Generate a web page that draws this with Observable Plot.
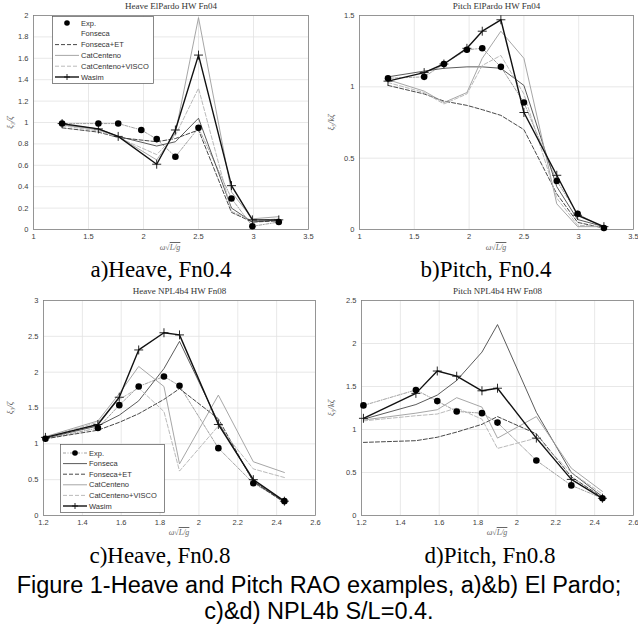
<!DOCTYPE html>
<html><head><meta charset="utf-8">
<script src="https://cdn.jsdelivr.net/npm/d3@7"></script>
<script src="https://cdn.jsdelivr.net/npm/@observablehq/plot@0.6"></script>
<style>
body{margin:0;background:#fff;width:638px;height:627px;position:relative;overflow:hidden}
.panel{position:absolute}
.panel svg{overflow:visible}
.cap{position:absolute;font-family:"Liberation Serif","Times New Roman",serif;font-size:23px;color:#000;white-space:nowrap;transform:translateX(-50%);line-height:1}
.xl{position:absolute;font-family:"Liberation Serif",serif;font-size:8px;color:#666;white-space:nowrap;transform:translateX(-50%);line-height:1}
.fig{position:absolute;left:0;width:638px;text-align:center;font-family:"Liberation Sans",Arial,sans-serif;font-size:23.5px;line-height:26px;height:26px;color:#000;white-space:nowrap}
</style></head><body>
<script>
// ---------- data ----------
const seriesNames = ["Exp.","Fonseca","Fonseca+ET","CatCenteno","CatCenteno+VISCO","Wasim"];
const xTicksTop = [1, 1.5, 2, 2.5, 3, 3.5];
const xTicksBottom = [1.2, 1.4, 1.6, 1.8, 2, 2.2, 2.4, 2.6];
const yTicksA = [0, 0.2, 0.4, 0.6, 0.8, 1, 1.2, 1.4, 1.6, 1.8, 2];
const yTicksB = [0, 0.5, 1, 1.5];
const yTicksC = [0, 0.5, 1, 1.5, 2, 2.5, 3];
const yTicksD = [0, 0.5, 1, 1.5, 2, 2.5];

const omegaExpTop = [1.26, 1.59, 1.77, 1.98, 2.12, 2.29, 2.5, 2.8, 2.99, 3.23];
const omegaModelA = [1.26, 1.59, 1.77, 2.12, 2.29, 2.5, 2.8, 2.99, 3.23];
const omegaModelB = [1.26, 1.59, 1.77, 1.98, 2.12, 2.29, 2.5, 2.8, 2.99, 3.23];
const omegaBottom = [1.21, 1.48, 1.59, 1.69, 1.82, 1.9, 2.1, 2.28, 2.44];

// a) Heave El Pardo Fn0.4
const heaveA_exp       = [0.99, 0.99, 0.99, 0.93, 0.845, 0.68, 0.95, 0.29, 0.03, 0.07];
const heaveA_fonseca   = [0.98, 0.94, 0.87, 0.78, 0.82, 1.04, 0.20, 0.07, 0.09];
const heaveA_fonsecaET = [0.95, 0.91, 0.86, 0.82, 0.85, 0.93, 0.16, 0.07, 0.08];
const heaveA_cat       = [0.98, 0.93, 0.87, 0.65, 0.90, 1.98, 0.35, 0.10, 0.12];
const heaveA_catVisco  = [0.97, 0.92, 0.86, 0.70, 0.88, 1.32, 0.17, 0.08, 0.10];
const heaveA_wasim     = [0.99, 0.94, 0.87, 0.61, 0.93, 1.63, 0.41, 0.09, 0.09];

// b) Pitch El Pardo Fn0.4
const pitchB_exp       = [1.06, 1.07, 1.16, 1.26, 1.27, 1.14, 0.89, 0.34, 0.11, 0.01];
const pitchB_fonseca   = [1.07, 1.11, 1.13, 1.14, 1.14, 1.13, 1.01, 0.30, 0.07, 0.02];
const pitchB_fonsecaET = [1.01, 0.95, 0.90, 0.87, 0.84, 0.80, 0.70, 0.25, 0.05, 0.01];
const pitchB_cat       = [1.05, 0.97, 0.89, 0.96, 1.20, 1.39, 1.20, 0.18, 0.02, 0.02];
const pitchB_catVisco  = [1.03, 0.96, 0.88, 0.95, 1.15, 1.22, 0.95, 0.22, 0.03, 0.02];
const pitchB_wasim     = [1.04, 1.10, 1.16, 1.27, 1.39, 1.47, 0.82, 0.38, 0.10, 0.02];

// c) Heave NPL4b Fn0.8
const heaveC_exp       = [1.07, 1.22, 1.54, 1.80, 1.94, 1.81, 0.94, 0.45, 0.20];
const heaveC_fonseca   = [1.08, 1.25, 1.40, 1.60, 2.05, 2.43, 1.30, 0.48, 0.19];
const heaveC_fonsecaET = [1.07, 1.19, 1.30, 1.42, 1.62, 1.77, 1.35, 0.47, 0.18];
const heaveC_cat       = [1.10, 1.32, 1.70, 2.08, 1.80, 0.72, 1.68, 0.75, 0.60];
const heaveC_catVisco  = [1.09, 1.30, 1.62, 1.78, 1.45, 0.62, 1.25, 0.65, 0.53];
const heaveC_wasim     = [1.09, 1.27, 1.65, 2.31, 2.55, 2.52, 1.27, 0.50, 0.20];

// d) Pitch NPL4b Fn0.8
const pitchD_exp       = [1.28, 1.46, 1.33, 1.21, 1.19, 1.08, 0.64, 0.35, 0.20];
const pitchD_fonseca   = [1.12, 1.29, 1.40, 1.57, 1.90, 2.22, 1.20, 0.50, 0.22];
const pitchD_fonsecaET = [0.85, 0.87, 0.91, 0.97, 1.06, 1.15, 0.95, 0.45, 0.21];
const pitchD_cat       = [1.11, 1.19, 1.23, 1.37, 1.26, 0.90, 1.15, 0.55, 0.28];
const pitchD_catVisco  = [1.10, 1.16, 1.18, 1.25, 1.12, 0.78, 0.90, 0.50, 0.25];
const pitchD_wasim     = [1.13, 1.42, 1.68, 1.62, 1.45, 1.48, 0.90, 0.42, 0.20];

// ---------- styles ----------
const style = {
  "Exp.":             {stroke:"#7a7a7a", strokeWidth:0.7, strokeDasharray:"3,1.5,1,1.5"},
  "Fonseca":          {stroke:"#484848", strokeWidth:0.9},
  "Fonseca+ET":       {stroke:"#333333", strokeWidth:0.9, strokeDasharray:"4,2"},
  "CatCenteno":       {stroke:"#9c9c9c", strokeWidth:0.9},
  "CatCenteno+VISCO": {stroke:"#b2b2b2", strokeWidth:0.9, strokeDasharray:"4,2"},
  "Wasim":            {stroke:"#111111", strokeWidth:1.4}
};

const zip = (xs, ys) => xs.map((x, i) => ({x, y: ys[i]}));
const fmt = d => String(d);

function panel(o) {
  const models = [
    ["Fonseca", o.fonseca], ["Fonseca+ET", o.fonsecaET], ["CatCenteno", o.cat],
    ["CatCenteno+VISCO", o.catVisco], ["Wasim", o.wasim]
  ];
  const expData = zip(o.expX, o.exp);
  const marks = [
    Plot.gridX(o.xTicks, {stroke:"#e2e2e2", strokeOpacity:1, strokeWidth:0.8}),
    Plot.gridY(o.yTicks, {stroke:"#e2e2e2", strokeOpacity:1, strokeWidth:0.8}),
    Plot.frame({stroke:"#808080", strokeWidth:0.8}),
    Plot.line(expData, {x:"x", y:"y", ...style["Exp."]})
  ];
  for (const [name, ys] of models) {
    marks.push(Plot.line(zip(o.modX, ys), {x:"x", y:"y", ...style[name]}));
  }
  marks.push(Plot.dot(zip(o.modX, o.wasim), {x:"x", y:"y", symbol:"plus", r:3, stroke:"#111", strokeWidth:0.9}));
  marks.push(Plot.dot(expData, {x:"x", y:"y", r:3.3, fill:"#000", stroke:"none"}));
  marks.push(Plot.axisX(o.xTicks, {tickSize:0, tickPadding:4, fontSize:7.5, fill:"#404040", label:null, tickFormat:fmt, fontFamily:"Liberation Sans, Arial, sans-serif"}));
  marks.push(Plot.axisY(o.yTicks, {tickSize:0, tickPadding:5, fontSize:7.5, fill:"#404040", label:null, tickFormat:fmt, fontFamily:"Liberation Sans, Arial, sans-serif"}));
  marks.push(Plot.text([o.title], {frameAnchor:"top", lineAnchor:"middle", textAnchor:"middle", dy:-9, fontSize:9, fontFamily:"Liberation Serif, serif", fill:"#333"}));
  marks.push(Plot.text([o.ylabel], {frameAnchor:"left", textAnchor:"middle", lineAnchor:"middle", dx:o.ylabelDx, rotate:-90, fontSize:8.5, fontFamily:"Liberation Serif, serif", fontStyle:"italic", fill:"#555"}));
  const chart = Plot.plot({
    width:o.width, height:o.height,
    marginLeft:o.mL, marginRight:o.mR, marginTop:o.mT, marginBottom:o.mB,
    x:{domain:o.xDomain}, y:{domain:o.yDomain},
    style:{background:"transparent"},
    marks
  });
  const div = document.createElement("div");
  div.className = "panel";
  div.style.left = o.left + "px"; div.style.top = o.top + "px";
  div.appendChild(chart);
  document.body.appendChild(div);
}

function legend(o) {
  const rowH = o.rowH;
  const w = o.w, h = o.h;
  const svg = d3.create("svg").attr("width", w + 2).attr("height", h + 2)
    .style("position","absolute").style("left", o.left + "px").style("top", o.top + "px");
  svg.append("rect").attr("x",0.5).attr("y",0.5).attr("width",w).attr("height",h)
    .attr("fill","#fff").attr("stroke","#555").attr("stroke-width",0.7);
  seriesNames.forEach((name, i) => {
    const y = o.y0 + i * rowH;
    const s = style[name];
    const hideLine = (o.faintFonseca && name === "Fonseca") || (name === "Exp." && !o.expLine);
    if (!hideLine) {
      svg.append("line").attr("x1",3).attr("x2",27).attr("y1",y).attr("y2",y)
        .attr("stroke", s.stroke).attr("stroke-width", s.strokeWidth)
        .attr("stroke-dasharray", s.strokeDasharray || null);
    }
    if (name === "Exp.") svg.append("circle").attr("cx",15).attr("cy",y).attr("r",2.8).attr("fill","#000");
    if (name === "Wasim") svg.append("path").attr("d",`M15,${y-3}V${y+3}M12,${y}H18`).attr("stroke","#111").attr("stroke-width",0.9);
    svg.append("text").attr("x",29).attr("y",y).attr("dy","0.35em")
      .attr("font-family","Liberation Sans, Arial, sans-serif").attr("font-size",7.5).attr("fill","#333").text(name);
  });
  document.body.appendChild(svg.node());
}

function addDiv(cls, html, left, top) {
  const d = document.createElement("div");
  d.className = cls; d.innerHTML = html;
  if (left != null) d.style.left = left + "px";
  d.style.top = top + "px";
  document.body.appendChild(d);
}

const xlab = '<i>ω</i>√<span style="text-decoration:overline"><i>L/g</i></span>';

panel({left:0, top:0, width:318, height:245, mL:33, mR:10, mT:15, mB:16,
  xDomain:[1,3.5], yDomain:[0,2], xTicks:xTicksTop, yTicks:yTicksA,
  title:"Heave ElPardo HW Fn04", ylabel:"ξ₃/ζ", ylabelDx:-23,
  expX:omegaExpTop, exp:heaveA_exp, modX:omegaModelA,
  fonseca:heaveA_fonseca, fonsecaET:heaveA_fonsecaET, cat:heaveA_cat, catVisco:heaveA_catVisco, wasim:heaveA_wasim});
panel({left:318, top:0, width:320, height:245, mL:41, mR:5, mT:15, mB:16,
  xDomain:[1,3.5], yDomain:[0,1.5], xTicks:xTicksTop, yTicks:yTicksB,
  title:"Pitch ElPardo HW Fn04", ylabel:"ξ₅/kζ", ylabelDx:-28,
  expX:omegaExpTop, exp:pitchB_exp, modX:omegaModelB,
  fonseca:pitchB_fonseca, fonsecaET:pitchB_fonsecaET, cat:pitchB_cat, catVisco:pitchB_catVisco, wasim:pitchB_wasim});
panel({left:0, top:285, width:318, height:245, mL:43, mR:3, mT:15, mB:15,
  xDomain:[1.2,2.6], yDomain:[0,3], xTicks:xTicksBottom, yTicks:yTicksC,
  title:"Heave NPL4b4 HW Fn08", ylabel:"ξ₃/ζ", ylabelDx:-33,
  expX:omegaBottom, exp:heaveC_exp, modX:omegaBottom,
  fonseca:heaveC_fonseca, fonsecaET:heaveC_fonsecaET, cat:heaveC_cat, catVisco:heaveC_catVisco, wasim:heaveC_wasim});
panel({left:318, top:285, width:320, height:245, mL:43, mR:5, mT:15, mB:15,
  xDomain:[1.2,2.6], yDomain:[0,2.5], xTicks:xTicksBottom, yTicks:yTicksD,
  title:"Pitch NPL4b4 HW Fn08", ylabel:"ξ₅/kζ", ylabelDx:-30,
  expX:omegaBottom, exp:pitchD_exp, modX:omegaBottom,
  fonseca:pitchD_fonseca, fonsecaET:pitchD_fonsecaET, cat:pitchD_cat, catVisco:pitchD_catVisco, wasim:pitchD_wasim});

legend({left:52, top:16, w:101, h:67, y0:7, rowH:10.8, faintFonseca:true, expLine:false});
legend({left:60, top:444, w:104, h:68, y0:9, rowH:10.6, faintFonseca:false, expLine:true});

addDiv("xl", xlab, 170, 244);
addDiv("xl", xlab, 496, 244);
addDiv("xl", xlab, 179, 529);
addDiv("xl", xlab, 497, 529);

addDiv("cap", "a)Heave, Fn0.4", 161, 258);
addDiv("cap", "b)Pitch, Fn0.4", 486, 258);
addDiv("cap", "c)Heave, Fn0.8", 160, 544);
addDiv("cap", "d)Pitch, Fn0.8", 490, 544);
addDiv("fig", "Figure 1-Heave and Pitch RAO examples, a)&amp;b) El Pardo;", null, 572);
addDiv("fig", "c)&amp;d) NPL4b S/L=0.4.", null, 598);
</script>
</body></html>
